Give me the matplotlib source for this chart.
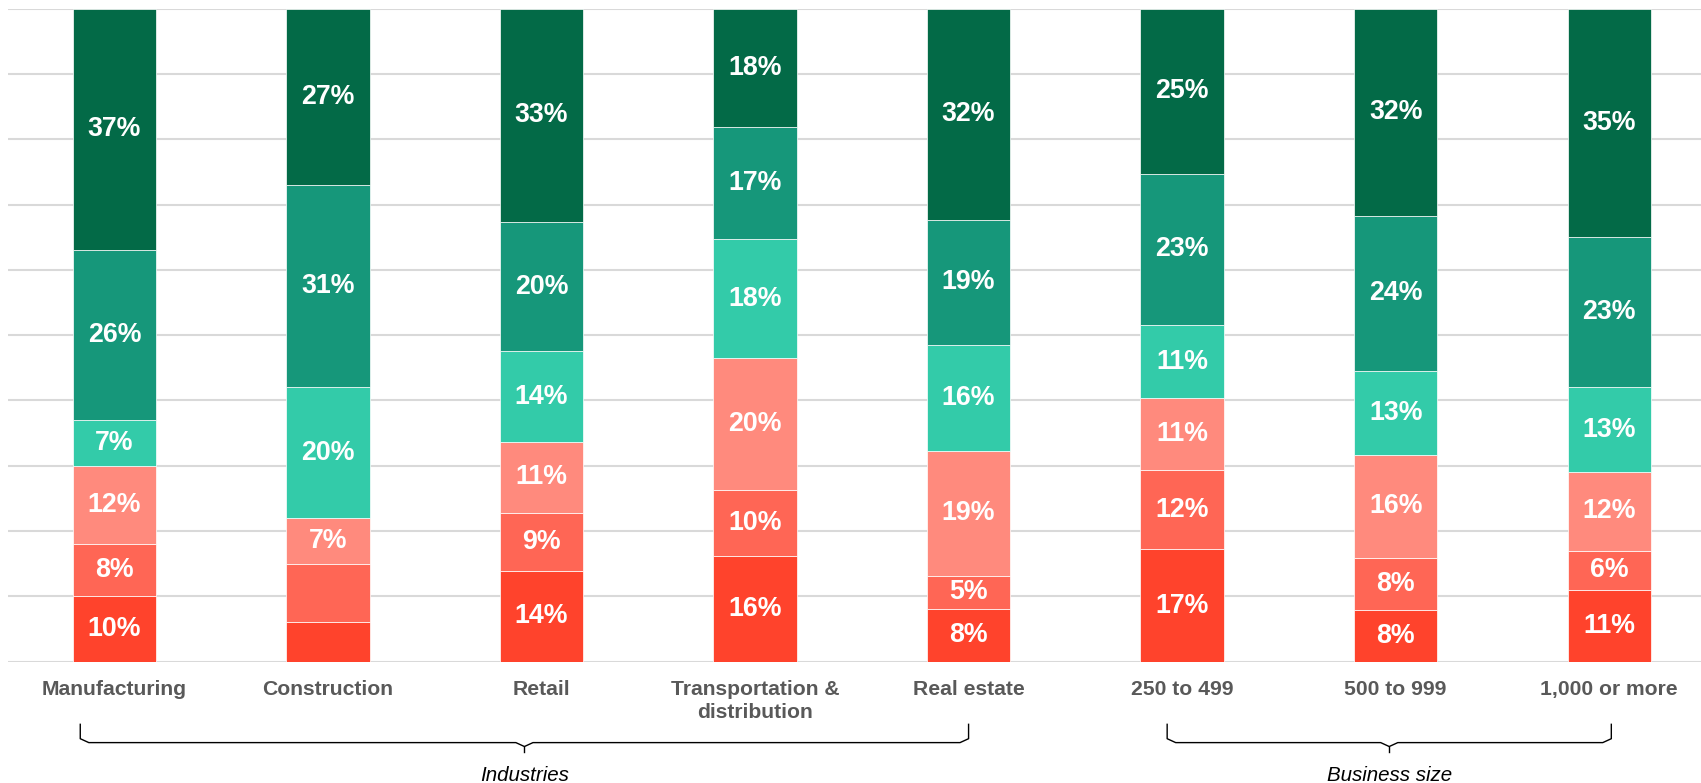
import matplotlib.pyplot as plt
import numpy as np

plt.rcParams['font.family'] = ['Liberation Sans', 'DejaVu Sans']

categories = ["Manufacturing", "Construction", "Retail", "Transportation &\ndistribution",
              "Real estate", "250 to 499", "500 to 999", "1,000 or more"]

# segments from bottom to top
seg1 = [10, 6, 14, 16, 8, 17, 8, 11]
seg2 = [8, 9, 9, 10, 5, 12, 8, 6]
seg3 = [12, 7, 11, 20, 19, 11, 16, 12]
seg4 = [7, 20, 14, 18, 16, 11, 13, 13]
seg5 = [26, 31, 20, 17, 19, 23, 24, 23]
seg6 = [37, 27, 33, 18, 32, 25, 32, 35]
# Construction's two bottom segments carry no label in the original
unlabeled = {(1, 0), (1, 1)}

colors = ["#FF432C", "#FF6655", "#FF8A7D", "#33CBA9", "#16977A", "#036A47"]

groups = [("Industries", -0.16, 4.0, 1.92), ("Business size", 4.93, 7.01, 5.97)]

segs = np.array([seg1, seg2, seg3, seg4, seg5, seg6], dtype=float)
# stacks are normalised to fill 100% like the original
shares = segs / segs.sum(axis=0) * 100

fig = plt.figure(figsize=(17.01, 7.83), dpi=100)
ax = fig.add_axes([0.0045, 0.155, 0.9955, 0.834])

x = np.arange(len(categories))
bottom = np.zeros(len(categories))
for i in range(len(segs)):
    ax.bar(x, shares[i], 0.39, bottom=bottom, color=colors[i], edgecolor="white",
           linewidth=0.5, zorder=3)
    for j in range(len(categories)):
        if (j, i) in unlabeled:
            continue
        ax.text(x[j], bottom[j] + shares[i][j] / 2, f"{int(segs[i][j])}%", ha="center",
                va="center", color="white", fontsize=19.3, fontweight="bold", zorder=4)
    bottom += shares[i]

ax.set_xlim(-0.5, 7.43)
ax.set_ylim(0, 100)
ax.set_yticks(np.arange(0, 101, 10))
ax.set_yticklabels([])
ax.tick_params(axis="y", length=0)
ax.tick_params(axis="x", length=0, pad=13)
ax.set_xticks(x)
ax.set_xticklabels(categories, fontsize=15.2, fontweight="bold", color="#595959",
                   linespacing=1.3, va="top")
ax.grid(axis="y", color="#D9D9D9", linewidth=1.5, zorder=0)
for s in ax.spines.values():
    s.set_visible(False)

# group braces below the tick labels
trans = ax.get_xaxis_transform()
for name, x0, x1, xc in groups:
    r = 0.04
    ax.plot([x0, x0, x0 + r, xc - r, xc, xc + r, x1 - r, x1, x1],
            [-0.096, -0.118, -0.124, -0.124, -0.13, -0.124, -0.124, -0.118, -0.096],
            color="black", linewidth=1.0, transform=trans, clip_on=False)
    ax.plot([xc, xc], [-0.13, -0.138], color="black", linewidth=1.0,
            transform=trans, clip_on=False)
    ax.text(xc, -0.174, name, ha="center", va="center", fontsize=14.8, style="italic",
            transform=trans)

fig.savefig("out.png", dpi=100)
